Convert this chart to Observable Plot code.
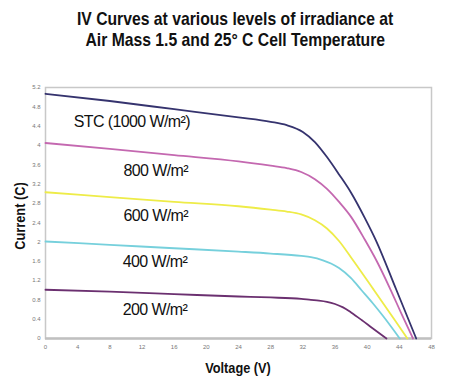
<!DOCTYPE html>
<html>
<head>
<meta charset="utf-8">
<script src="https://cdn.jsdelivr.net/npm/d3@7"></script>
<script src="https://cdn.jsdelivr.net/npm/@observablehq/plot@0.6"></script>
<style>
  html, body { margin: 0; padding: 0; background: #fff; }
  #wrap { position: relative; width: 470px; height: 385px; overflow: hidden; font-family: "Liberation Sans", Arial, sans-serif; }
  .title { position: absolute; left: 0; width: 470px; text-align: center; font-weight: bold; font-size: 18.5px; color: #111; white-space: nowrap; }
  .title span { display: inline-block; transform: scaleX(0.85); transform-origin: center; }
  .axlab { position: absolute; font-weight: bold; font-size: 15px; color: #111; white-space: nowrap; }
  #chart { position: absolute; left: 0; top: 0; }
</style>
</head>
<body>
<div id="wrap">
  <div id="chart"></div>
  <div class="title" style="top:8px"><span>IV Curves at various levels of irradiance at</span></div>
  <div class="title" style="top:29px"><span>Air Mass 1.5 and 25° C Cell Temperature</span></div>
  <div class="axlab" id="xlab" style="left:238px; top:367px; transform: translate(-50%,-50%) scaleX(0.85);">Voltage (V)</div>
  <div class="axlab" id="ylab" style="left:19px; top:216px; transform: translate(-50%,-50%) rotate(-90deg) scaleX(0.85);">Current (C)</div>
</div>
<script>
// Series: voltage (V) and current
const v1000 = [0, 8, 16, 24, 28, 30, 32, 33.5, 35, 36.5, 38, 39.7, 41.1, 43.6, 46.1];
const i1000 = [5.07, 4.92, 4.75, 4.58, 4.49, 4.42, 4.28, 4.07, 3.76, 3.40, 3.02, 2.50, 2.03, 1.02, 0];
const v800 = [0, 8, 16, 24, 28, 30, 31.8, 33.5, 35, 36.5, 38, 39.7, 41.2, 42.8, 44.3, 45.7];
const i800 = [4.05, 3.93, 3.80, 3.67, 3.58, 3.53, 3.45, 3.30, 3.10, 2.83, 2.52, 2.05, 1.60, 1.05, 0.50, 0];
const v600 = [0, 8, 16, 24, 28, 30, 31.8, 33.5, 35, 36.5, 38, 40.9, 43.6, 45.0];
const i600 = [3.03, 2.93, 2.83, 2.74, 2.67, 2.63, 2.57, 2.45, 2.28, 2.02, 1.68, 0.99, 0.34, 0];
const v400 = [0, 8, 16, 24, 28, 31.8, 33, 34.5, 35.5, 36.5, 38, 39.3, 40.7, 42, 44.05];
const i400 = [2.01, 1.94, 1.87, 1.80, 1.76, 1.71, 1.685, 1.62, 1.555, 1.46, 1.25, 1.0, 0.73, 0.46, 0];
const v200 = [0, 8, 16, 24, 28, 31.8, 33, 34, 35, 36, 37, 38, 39.5, 40.5, 42.4];
const i200 = [1.01, 0.97, 0.92, 0.87, 0.85, 0.82, 0.80, 0.785, 0.76, 0.715, 0.645, 0.54, 0.36, 0.235, 0];

const seriesNames = ["1000", "800", "600", "400", "200"];
const seriesColors = ["#35336e", "#c468b0", "#eeec48", "#76d0dc", "#6b3070"];

// Curve labels (text and anchor in data units)
const labelTexts = ["STC (1000 W/m²)", "800 W/m²", "600 W/m²", "400 W/m²", "200 W/m²"];
const labelV = [3.5, 9.7, 9.7, 9.6, 9.6];
const labelI = [4.48, 3.48, 2.55, 1.58, 0.59];

const xTicks = [0, 4, 8, 12, 16, 20, 24, 28, 32, 36, 40, 44, 48];
const yTicks = [0, 0.4, 0.8, 1.2, 1.6, 2, 2.4, 2.8, 3.2, 3.6, 4, 4.4, 4.8, 5.2];

const vs = [v1000, v800, v600, v400, v200];
const is = [i1000, i800, i600, i400, i200];
const rows = [];
seriesNames.forEach((s, k) => vs[k].forEach((v, j) => rows.push({series: s, V: v, I: is[k][j]})));
const labels = labelTexts.map((t, k) => ({text: t, V: labelV[k], I: labelI[k]}));

const chart = Plot.plot({
  width: 470,
  height: 385,
  marginTop: 87,
  marginLeft: 45,
  marginRight: 39,
  marginBottom: 47,
  style: {background: "transparent", fontFamily: "Liberation Sans, Arial, sans-serif"},
  x: {domain: [0, 48], ticks: xTicks, tickSize: 0, tickPadding: 6, label: null, tickFormat: d => String(d)},
  y: {domain: [0, 5.2], ticks: yTicks, tickSize: 0, tickPadding: 5, label: null, tickFormat: d => String(+d.toFixed(1))},
  color: {domain: seriesNames, range: seriesColors},
  marks: [
    Plot.frame({stroke: "#c8c8c8", strokeWidth: 1.5}),
    Plot.ruleY([0], {stroke: "#c0c0c0", strokeWidth: 2.5}),
    Plot.line(rows, {x: "V", y: "I", z: "series", stroke: "series", strokeWidth: 1.8, curve: "monotone-x"}),
    Plot.text(labels, {x: "V", y: "I", text: "text", textAnchor: "start", fontSize: 16, fill: "#111"})
  ]
});
document.getElementById("chart").appendChild(chart);
chart.querySelectorAll("g[aria-label='x-axis tick label'] text, g[aria-label='y-axis tick label'] text").forEach(t => {
  t.setAttribute("fill", "#777");
});
chart.querySelectorAll("g[aria-label='x-axis tick label'], g[aria-label='y-axis tick label']").forEach(g => {
  g.setAttribute("font-size", "6");
});
chart.querySelectorAll("g[aria-label='text'] text").forEach(t => {
  t.style.letterSpacing = "-0.6px";
});
</script>
</body>
</html>
